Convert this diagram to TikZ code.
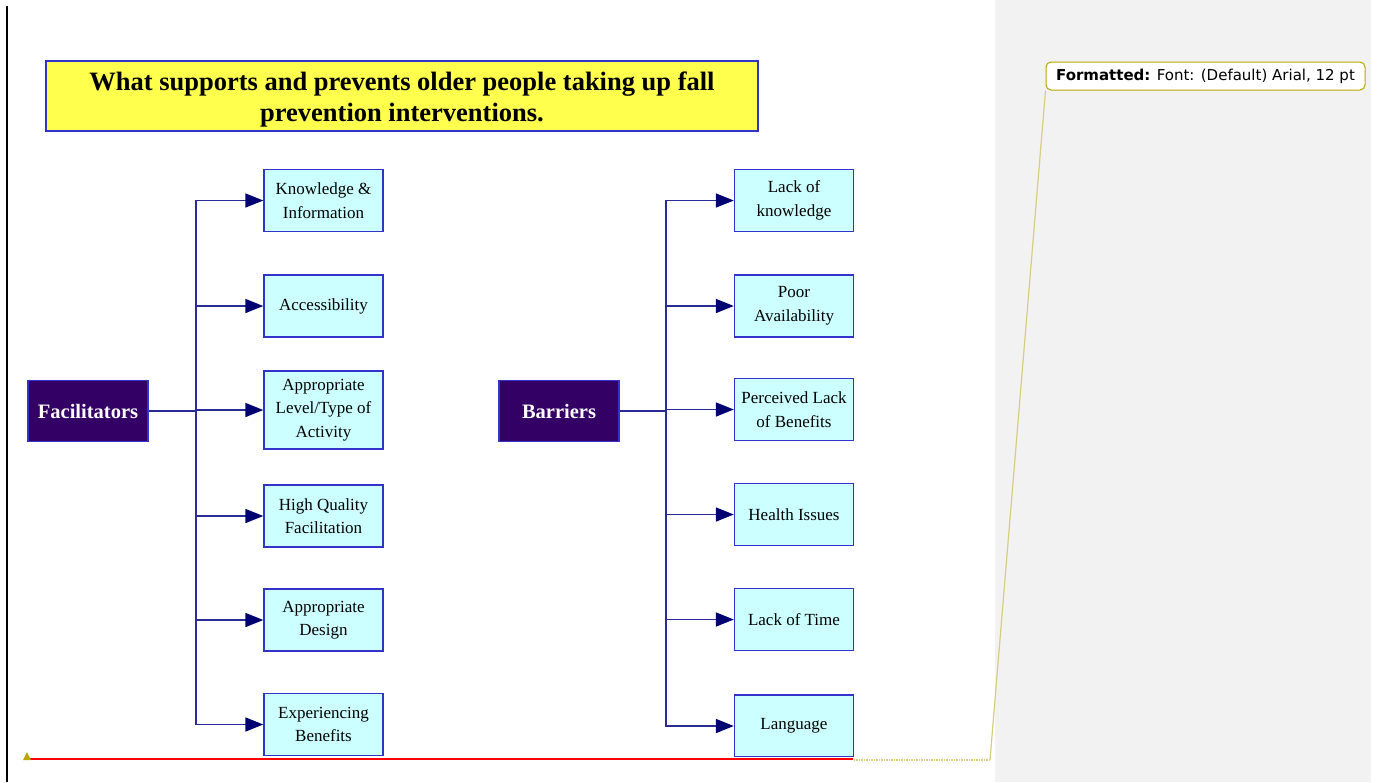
\documentclass[tikz,border=0pt]{standalone}
\usepackage{fontspec}
\setmainfont{Liberation Serif}
\newfontfamily\uifont{DejaVu Sans}
\usetikzlibrary{arrows.meta}
\definecolor{boxfill}{HTML}{CCFFFF}
\definecolor{boxline}{HTML}{3333CC}
\definecolor{headfill}{HTML}{330066}
\definecolor{titlefill}{HTML}{FFFF4D}
\definecolor{connc}{HTML}{2A2A99}
\definecolor{arrowc}{HTML}{000070}
\definecolor{greyb}{HTML}{F2F2F2}
\definecolor{olive}{HTML}{B8A800}
\definecolor{leaderc}{HTML}{D6CE80}
\begin{document}
\begin{tikzpicture}[x=1pt,y=-1pt,
  item/.style={draw=boxline, fill=boxfill, line width=1.4pt, minimum width=119pt, minimum height=62pt, inner sep=0pt, align=center, font=\fontsize{17}{23.5}\selectfont},
  head/.style={draw=boxline, fill=headfill, line width=1.4pt, text=white, minimum width=120pt, minimum height=61pt, inner sep=0pt, font=\bfseries\fontsize{20.5}{24}\selectfont},
  conn/.style={draw=connc, line width=1.7pt, -{Triangle[length=18pt,width=14pt,color=arrowc,fill=arrowc]}},
  plain/.style={draw=connc, line width=1.8pt}]
\useasboundingbox (0,0) rectangle (1379,782);
\fill[white] (0,0) rectangle (1379,782);
\fill[greyb] (995,0) rectangle (1371,782);
\draw[black, line width=2.4pt] (7,6) -- (7,782);

\begin{scope}
\clip (0,0) rectangle (995,756);
% title
\draw[boxline, fill=titlefill, line width=1.4pt] (46,61) rectangle (758,131);
\node[align=center, inner sep=0pt, font=\bfseries\fontsize{26.5}{31}\selectfont] (title) at (402,99.5) {What supports and prevents older people taking up fall\\prevention interventions.};

% facilitators
\node[head] (fac) at (88,411) {Facilitators};
\node[item] (f1) at (323.5,200.5) {Knowledge \&\\Information};
\node[item] (f2) at (323.5,306) {Accessibility};
\node[item, minimum height=78pt] (f3) at (323.5,410) {Appropriate\\Level/Type of\\Activity};
\node[item] (f4) at (323.5,516) {High Quality\\Facilitation};
\node[item] (f5) at (323.5,620) {Appropriate\\Design};
\node[item] (f6) at (323.5,724.5) {Experiencing\\Benefits};

\coordinate (ft) at (196,411);
\draw[plain] (fac.east) -- (ft);
\foreach \n in {f1,f2,f3,f4,f5,f6} \draw[conn] (ft) |- (\n.west);

% barriers
\node[head] (bar) at (559,411) {Barriers};
\node[item] (b1) at (794,200.5) {Lack of\\knowledge};
\node[item] (b2) at (794,306) {Poor\\Availability};
\node[item] (b3) at (794,409.5) {Perceived Lack\\of Benefits};
\node[item] (b4) at (794,514.5) {Health Issues};
\node[item] (b5) at (794,619.5) {Lack of Time};
\node[item] (b6) at (794,726) {Language};

\coordinate (bt) at (666,411);
\draw[plain] (bar.east) -- (bt);
\foreach \n in {b1,b2,b3,b4,b5,b6} \draw[conn] (bt) |- (\n.west);
\end{scope}

% comment
\node[draw=olive, fill=white, line width=1pt, rounded corners=5pt, minimum width=319pt, minimum height=28pt, inner sep=0pt, font=\uifont\fontsize{15}{17}\selectfont] (com) at (1205.5,76) {\textbf{Formatted:} Font: (Default) Arial, 12 pt};
\coordinate (lk) at (990,760);
\coordinate (le) at (853,760);
\coordinate (mk) at (27,759);
\draw[leaderc, line width=1.2pt] (com.south west) -- (lk);
\draw[leaderc, line width=1.5pt, densely dotted] (lk) -- (le);
\draw[red, line width=2.6pt] (mk) -- (le |- mk);
\fill[olive] (mk) ++(-4,1) -- ++(8,0) -- ++(-4,-8) -- cycle;
\end{tikzpicture}
\end{document}
